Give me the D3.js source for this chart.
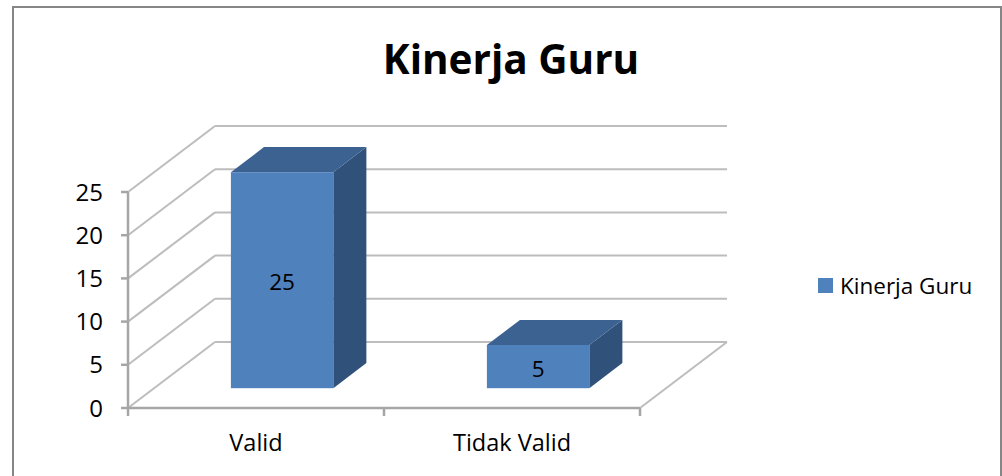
<!DOCTYPE html>
<html>
<head>
<meta charset="utf-8">
<script src="https://cdn.jsdelivr.net/npm/d3@7.9.0/dist/d3.min.js"></script>
<style>
  html, body { margin: 0; padding: 0; background: #fff; }
  svg { display: block; font-family: "Open Sans", "Noto Sans", sans-serif; }
</style>
</head>
<body>
<svg width="1002" height="476"></svg>
<script>
const categories = ['Valid', 'Tidak Valid'];
const values = [25, 5];
const yTicks = [0, 5, 10, 15, 20, 25];
const seriesName = 'Kinerja Guru';
const chartTitle = 'Kinerja Guru';

const svg = d3.select('svg');

// outer chart border
svg.append('rect')
  .attr('x', 13).attr('y', 7)
  .attr('width', 988).attr('height', 480)
  .attr('fill', '#fff')
  .attr('stroke', '#868686')
  .attr('stroke-width', 2);

// front plane scales + depth offset for the fake 3d
const x = d3.scaleBand().domain(categories).range([128, 640]).paddingInner(0.6).paddingOuter(0.3);
const y = d3.scaleLinear().domain([0, 25]).range([408, 192]);
const depth = { dx: 87, dy: -66 };
const proj = (px, py, z) => [px + z * depth.dx, py + z * depth.dy];

const grid = svg.append('g')
  .attr('fill', 'none')
  .attr('stroke', '#bdbdbd')
  .attr('stroke-width', 2);

// side wall diagonals + back wall horizontals
yTicks.forEach((t) => {
  const [bx, by] = proj(128, y(t), 1);
  grid.append('path').attr('d', `M128,${y(t)}L${bx},${by}`);
  grid.append('path').attr('d', `M${bx},${by}L${640 + depth.dx},${by}`);
});

// floor right edge
const [fx, fy] = proj(640, y(0), 1);
grid.append('path').attr('d', `M640,${y(0)}L${fx},${fy}`);

// front axes
const axisG = svg.append('g').attr('stroke', '#a6a6a6').attr('stroke-width', 2.5).attr('fill', 'none');
axisG.append('path').attr('d', `M128,${y(25)}L128,${y(0)}`);
axisG.append('path').attr('d', `M128,${y(0)}L640,${y(0)}`);
yTicks.forEach((t) => {
  axisG.append('path').attr('d', `M121,${y(t)}L128,${y(t)}`);
});
[128, 128 + x.step(), 128 + 2 * x.step()].forEach((tx) => {
  axisG.append('path').attr('d', `M${tx},${y(0)}L${tx},${y(0) + 8}`);
});

// y tick labels
svg.append('g')
  .selectAll('text')
  .data(yTicks)
  .join('text')
  .attr('x', 103)
  .attr('y', (d) => y(d))
  .attr('dy', '0.36em')
  .attr('text-anchor', 'end')
  .attr('font-size', 24)
  .attr('fill', '#000')
  .text((d) => d);

// category labels
svg.append('g')
  .selectAll('text')
  .data(categories)
  .join('text')
  .attr('x', (d) => x(d) + x.bandwidth() / 2)
  .attr('y', 451)
  .attr('text-anchor', 'middle')
  .attr('font-size', 23.5)
  .attr('fill', '#000')
  .text((d) => d);

// bars
const z0 = 0.3, z1 = 0.68;
const bars = svg.append('g');
categories.forEach((c, i) => {
  const l = x(c), r = x(c) + x.bandwidth();
  const top = y(values[i]), bot = y(0);
  const p = (px, py, z) => proj(px, py, z).join(',');
  // right side
  bars.append('path')
    .attr('d', `M${p(r, top, z0)}L${p(r, top, z1)}L${p(r, bot, z1)}L${p(r, bot, z0)}Z`)
    .attr('fill', '#30517a');
  // top
  bars.append('path')
    .attr('d', `M${p(l, top, z0)}L${p(l, top, z1)}L${p(r, top, z1)}L${p(r, top, z0)}Z`)
    .attr('fill', '#3c6292');
  // front
  const [fl, ft] = proj(l, top, z0);
  const [fr, fb] = proj(r, bot, z0);
  bars.append('rect')
    .attr('x', fl).attr('y', ft)
    .attr('width', fr - fl).attr('height', fb - ft)
    .attr('fill', '#4f81bd');
  bars.append('text')
    .attr('x', (fl + fr) / 2)
    .attr('y', (ft + fb) / 2 + 2)
    .attr('dy', '0.36em')
    .attr('text-anchor', 'middle')
    .attr('font-size', 22.5)
    .attr('fill', '#000')
    .text(values[i]);
});

// title
svg.append('text')
  .attr('x', 511)
  .attr('y', 74)
  .attr('text-anchor', 'middle')
  .attr('font-size', 40.5)
  .attr('font-weight', 'bold')
  .attr('fill', '#000')
  .text(chartTitle);

// legend
svg.append('rect')
  .attr('x', 818).attr('y', 278)
  .attr('width', 15).attr('height', 15)
  .attr('fill', '#4f81bd');
svg.append('text')
  .attr('x', 840)
  .attr('y', 294)
  .attr('font-size', 22.5)
  .attr('fill', '#000')
  .text(seriesName);
</script>
</body>
</html>
